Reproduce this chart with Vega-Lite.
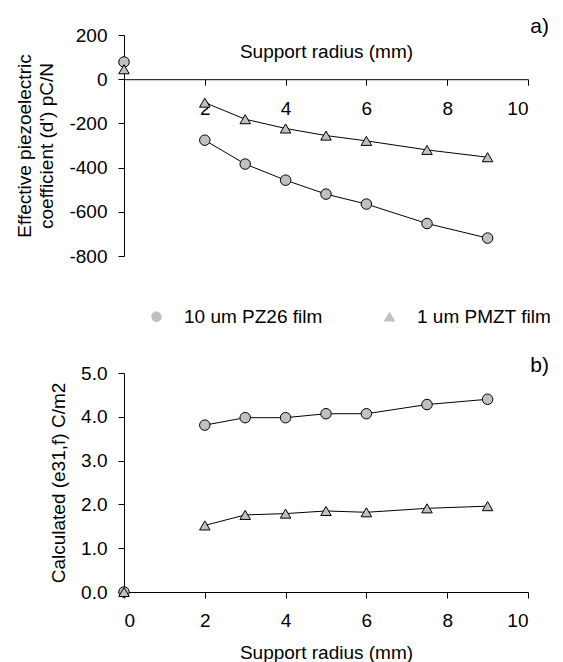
{
  "$schema": "https://vega.github.io/schema/vega-lite/v6.json",
  "background": "white",
  "padding": {"left": 15, "top": 15, "right": 5, "bottom": 2},
  "spacing": 27,
  "config": {
    "font": "Liberation Sans",
    "view": {"stroke": null},
    "axis": {
      "grid": false,
      "domainColor": "black",
      "tickColor": "black",
      "labelColor": "black",
      "titleColor": "black",
      "labelFontSize": 19,
      "titleFontSize": 19,
      "titleFontWeight": "normal",
      "tickSize": 6,
      "domainWidth": 1,
      "tickWidth": 1
    },
    "legend": {"labelFontSize": 19, "labelColor": "black", "padding": 0}
  },
  "resolve": {"legend": {"shape": "independent"}},
  "datasets": {
    "a": [
      {"r": 0, "val": 78, "film": "10 um PZ26 film"},
      {"r": 2, "val": -276, "film": "10 um PZ26 film"},
      {"r": 3, "val": -384, "film": "10 um PZ26 film"},
      {"r": 4, "val": -457, "film": "10 um PZ26 film"},
      {"r": 5, "val": -520, "film": "10 um PZ26 film"},
      {"r": 6, "val": -565, "film": "10 um PZ26 film"},
      {"r": 7.5, "val": -653, "film": "10 um PZ26 film"},
      {"r": 9, "val": -719, "film": "10 um PZ26 film"},
      {"r": 0, "val": 45, "film": "1 um PMZT film"},
      {"r": 2, "val": -106, "film": "1 um PMZT film"},
      {"r": 3, "val": -181, "film": "1 um PMZT film"},
      {"r": 4, "val": -223, "film": "1 um PMZT film"},
      {"r": 5, "val": -255, "film": "1 um PMZT film"},
      {"r": 6, "val": -279, "film": "1 um PMZT film"},
      {"r": 7.5, "val": -320, "film": "1 um PMZT film"},
      {"r": 9, "val": -353, "film": "1 um PMZT film"}
    ],
    "b": [
      {"r": 0, "val": 0, "film": "10 um PZ26 film"},
      {"r": 2, "val": 3.81, "film": "10 um PZ26 film"},
      {"r": 3, "val": 3.98, "film": "10 um PZ26 film"},
      {"r": 4, "val": 3.98, "film": "10 um PZ26 film"},
      {"r": 5, "val": 4.07, "film": "10 um PZ26 film"},
      {"r": 6, "val": 4.07, "film": "10 um PZ26 film"},
      {"r": 7.5, "val": 4.28, "film": "10 um PZ26 film"},
      {"r": 9, "val": 4.40, "film": "10 um PZ26 film"},
      {"r": 0, "val": 0, "film": "1 um PMZT film"},
      {"r": 2, "val": 1.52, "film": "1 um PMZT film"},
      {"r": 3, "val": 1.76, "film": "1 um PMZT film"},
      {"r": 4, "val": 1.79, "film": "1 um PMZT film"},
      {"r": 5, "val": 1.85, "film": "1 um PMZT film"},
      {"r": 6, "val": 1.82, "film": "1 um PMZT film"},
      {"r": 7.5, "val": 1.91, "film": "1 um PMZT film"},
      {"r": 9, "val": 1.96, "film": "1 um PMZT film"}
    ]
  },
  "vconcat": [
    {
      "width": 404,
      "height": 221,
      "data": {"name": "a"},
      "title": {"text": "a)", "anchor": "end", "frame": "group", "fontSize": 21, "fontWeight": "normal", "color": "black", "dx": 21, "offset": -10.5},
      "resolve": {"scale": {"shape": "independent"}},
      "layer": [
        {
          "transform": [{"filter": "datum.r >= 2"}],
          "mark": {"type": "line", "color": "black", "strokeWidth": 1},
          "encoding": {
            "x": {"field": "r", "type": "quantitative", "scale": {"domain": [0, 10], "nice": false},
              "axis": {"values": [0, 2, 4, 6, 8, 10], "offset": -176.8, "labelExpr": "datum.value == 0 ? '' : datum.label", "title": "Support radius (mm)", "titleY": -22, "titleBaseline": "alphabetic", "labelPadding": 14}},
            "y": {"field": "val", "type": "quantitative", "scale": {"domain": [-800, 200], "nice": false},
              "axis": {"values": [-800, -600, -400, -200, 0, 200], "labelExpr": "'' + datum.value", "title": ["Effective piezoelectric", "coefficient (d') pC/N"], "titlePadding": 12, "labelPadding": 11, "titleLineHeight": 22}},
            "detail": {"field": "film"}
          }
        },
        {
          "mark": {"type": "point", "filled": true, "fill": "#c0c0c0", "stroke": "black", "strokeWidth": 1, "size": 110, "opacity": 1, "fillOpacity": 1},
          "encoding": {
            "x": {"field": "r", "type": "quantitative"},
            "y": {"field": "val", "type": "quantitative"},
            "shape": {"field": "film", "type": "nominal",
              "scale": {"domain": ["10 um PZ26 film", "1 um PMZT film"], "range": ["circle", "triangle-up"]},
              "legend": null}
          }
        },
        {
          "transform": [{"filter": "false"}],
          "mark": {"type": "point", "filled": true, "fill": "#c0c0c0", "stroke": "black", "strokeWidth": 1, "size": 110, "opacity": 1, "fillOpacity": 1},
          "encoding": {
            "shape": {"field": "film", "type": "nominal",
              "scale": {"domain": ["10 um PZ26 film", "1 um PMZT film"],
                "range": ["M-3.5,0H-1M1,0H2.6M1,0A1,1 0 1,0 -1,0A1,1 0 1,0 1,0Z", "M-3.6,0.2H-0.75M0.75,0.2H3.9M0,-1L1.1,0.9L-1.1,0.9Z"]},
              "legend": {"title": null, "orient": "none", "direction": "horizontal", "legendX": 23, "legendY": 272, "symbolSize": 110, "labelOffset": 18, "columnPadding": 45, "symbolFillColor": "#c0c0c0", "symbolStrokeColor": "black", "symbolStrokeWidth": 1, "symbolOpacity": 1}}
          }
        }
      ]
    },
    {
      "width": 404,
      "height": 219,
      "data": {"name": "b"},
      "title": {"text": "b)", "anchor": "end", "frame": "group", "fontSize": 21, "fontWeight": "normal", "color": "black", "dx": 21, "offset": -11.5},
      "layer": [
        {
          "transform": [{"filter": "datum.r >= 2"}],
          "mark": {"type": "line", "color": "black", "strokeWidth": 1},
          "encoding": {
            "x": {"field": "r", "type": "quantitative", "scale": {"domain": [0, 10], "nice": false},
              "axis": {"values": [0, 2, 4, 6, 8, 10], "title": "Support radius (mm)", "labelPadding": 13.5, "titlePadding": 13}},
            "y": {"field": "val", "type": "quantitative", "scale": {"domain": [0, 5], "nice": false},
              "axis": {"values": [0, 1, 2, 3, 4, 5], "format": ".1f", "title": "Calculated (e31,f) C/m2", "titlePadding": 12, "labelPadding": 11}},
            "detail": {"field": "film"}
          }
        },
        {
          "mark": {"type": "point", "filled": true, "fill": "#c0c0c0", "stroke": "black", "strokeWidth": 1, "size": 110, "opacity": 1, "fillOpacity": 1},
          "encoding": {
            "x": {"field": "r", "type": "quantitative"},
            "y": {"field": "val", "type": "quantitative"},
            "shape": {"field": "film", "type": "nominal",
              "scale": {"domain": ["10 um PZ26 film", "1 um PMZT film"], "range": ["circle", "triangle-up"]},
              "legend": null}
          }
        }
      ]
    }
  ]
}
